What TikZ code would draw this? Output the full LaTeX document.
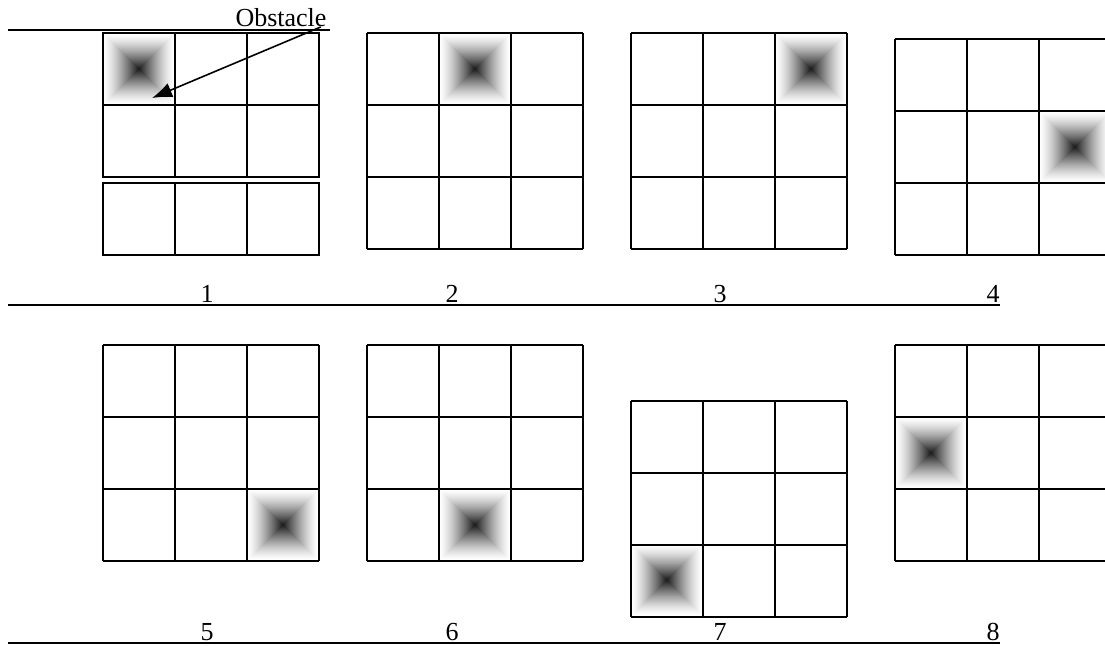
\documentclass[tikz,border=0pt]{standalone}
\usepackage{fontspec}
\setmainfont{Liberation Serif}
\usetikzlibrary{arrows.meta}
\tikzset{
  gridline/.style={line width=1.8pt, black},
  rule/.style={line width=2pt, black},
  lbl/.style={anchor=base, inner sep=0pt, font=\fontsize{26}{30}\selectfont},
  arr/.style={line width=1.6pt, -{Latex[length=20pt,width=15pt]}},
}
% shaded obstacle cell, top-left corner at (#1,#2), size 72
\newcommand\obstcell[2]{%
  \foreach \i in {0,...,35}{%
    \pgfmathsetmacro\g{88*(\i/35)^1.4}%
    \fill[black!\g] (#1+\i,#2+\i) rectangle (#1+72-\i,#2+72-\i);
  }%
}
% 3x3 grid with top-left corner at (#1,#2)
\newcommand\gridthree[2]{%
  \foreach \k in {0,1,2,3}{%
    \draw[gridline] (#1+72*\k,#2) -- (#1+72*\k,#2+216);
    \draw[gridline] (#1,#2+72*\k) -- (#1+216,#2+72*\k);
  }%
}
\begin{document}
\begin{tikzpicture}[x=1pt,y=-1pt]
\useasboundingbox (0,0) rectangle (1105,645);
\fill[white] (0,0) rectangle (1105,645);

% obstacles
\obstcell{103}{33}
\obstcell{439}{33}
\obstcell{775}{33}
\obstcell{1039}{111}
\obstcell{247}{489}
\obstcell{439}{489}
\obstcell{631}{544}
\obstcell{895}{417}

% grid 1 (two rows + separate row)
\draw[gridline] (103,33) rectangle (319,177);
\draw[gridline] (103,105) -- (319,105);
\draw[gridline] (175,33) -- (175,177);
\draw[gridline] (247,33) -- (247,177);
\draw[gridline] (103,183) rectangle (319,255);
\draw[gridline] (175,183) -- (175,255);
\draw[gridline] (247,183) -- (247,255);

% other grids
\gridthree{367}{33}
\gridthree{631}{33}
\gridthree{895}{39}
\gridthree{103}{345}
\gridthree{367}{345}
\gridthree{631}{401}
\gridthree{895}{345}

% rules
\coordinate (r1a) at (8,30);
\coordinate (r1b) at (330,30);
\coordinate (r2a) at (8,305);
\coordinate (r2b) at (1000,305);
\coordinate (r3a) at (8,643);
\coordinate (r3b) at (1000,643);
\draw[rule] (r1a) -- (r1b);
\draw[rule] (r2a) -- (r2b);
\draw[rule] (r3a) -- (r3b);

% labels
\node[lbl] (obs) at (281,26) {Obstacle};
\node[lbl] (n1) at (207,302) {1};
\node[lbl] (n2) at (452,302) {2};
\node[lbl] (n3) at (720,302) {3};
\node[lbl] (n4) at (993,302) {4};
\node[lbl] (n5) at (207,640) {5};
\node[lbl] (n6) at (452,640) {6};
\node[lbl] (n7) at (720,640) {7};
\node[lbl] (n8) at (993,640) {8};

% arrow
\coordinate (tip) at (152,98);
\draw[arr] ([xshift=-6pt,yshift=-1pt]obs.base east) -- (tip);
\end{tikzpicture}
\end{document}
